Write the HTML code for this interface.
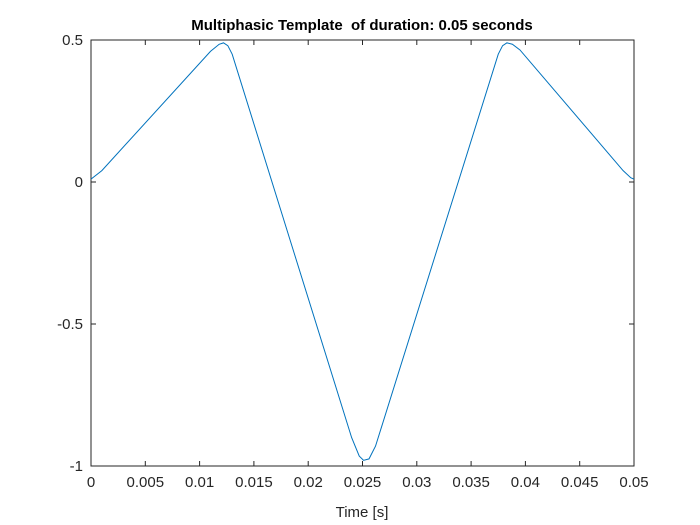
<!DOCTYPE html>
<html><head><meta charset="utf-8"><style>
body{margin:0;background:#fff;}
svg{display:block;font-family:"Liberation Sans",sans-serif;}
</style></head><body>
<svg id="chart" width="700" height="525" viewBox="0 0 700 525" xmlns="http://www.w3.org/2000/svg">
<rect x="0" y="0" width="700" height="525" fill="#fff"/>
<rect x="91" y="40" width="543" height="426" fill="#fff" stroke="#262626" stroke-width="1"/>
<text x="362" y="30" text-anchor="middle" font-size="15" font-weight="bold" fill="#000" style="white-space:pre">Multiphasic Template  of duration: 0.05 seconds</text>
<text x="362" y="517" text-anchor="middle" font-size="15" fill="#262626">Time [s]</text>
<g id="ticks"></g>
<path id="line" fill="none" stroke="#0072BD" stroke-width="1"/>
</svg>
<script>
const times=[0,0.001,0.011,0.0118,0.0122,0.0126,0.013,0.024,0.0247,0.0251,0.0256,0.0262,0.0375,0.0379,0.0383,0.0388,0.0395,0.049,0.0497,0.05];
const values=[0.01,0.04,0.46,0.485,0.49,0.48,0.45,-0.9,-0.965,-0.98,-0.975,-0.93,0.45,0.48,0.49,0.485,0.465,0.04,0.015,0.01];
const xTicks=[0,0.005,0.01,0.015,0.02,0.025,0.03,0.035,0.04,0.045,0.05];
const xTickLabels=["0","0.005","0.01","0.015","0.02","0.025","0.03","0.035","0.04","0.045","0.05"];
const yTicks=[-1,-0.5,0,0.5];
const yTickLabels=["-1","-0.5","0","0.5"];
const L=91,R=634,T=40,B=466;
function xs(v){return L+(v-0)/(0.05-0)*(R-L);}
function ys(v){return B-(v+1)/(1.5)*(B-T);}
const ns="http://www.w3.org/2000/svg";
const g=document.getElementById('ticks');
function mk(tag,attrs){const e=document.createElementNS(ns,tag);for(const k in attrs)e.setAttribute(k,attrs[k]);g.appendChild(e);return e;}
xTicks.forEach((t,i)=>{
  const x=xs(t);
  const a=mk('line',{x1:x,x2:x,y1:B,y2:B-5,stroke:'#262626'});
  
  
  const b=mk('line',{x1:x,x2:x,y1:T,y2:T+5,stroke:'#262626'});
  
  
  const tx=mk('text',{x:x,y:B+21,'text-anchor':'middle','font-size':'15',fill:'#262626'});
  tx.textContent=xTickLabels[i];
  
  
});
yTicks.forEach((t,i)=>{
  const y=ys(t);
  const a=mk('line',{x1:L,x2:L+5,y1:y,y2:y,stroke:'#262626'});
  
  
  const b=mk('line',{x1:R,x2:R-5,y1:y,y2:y,stroke:'#262626'});
  
  
  const tx=mk('text',{x:L-8,y:y+5,'text-anchor':'end','font-size':'15',fill:'#262626'});
  tx.textContent=yTickLabels[i];
  
  
});
document.getElementById('line').setAttribute('d',times.map((t,i)=>(i?'L':'M')+xs(t).toFixed(2)+','+ys(values[i]).toFixed(2)).join(' '));
</script>
</body></html>
